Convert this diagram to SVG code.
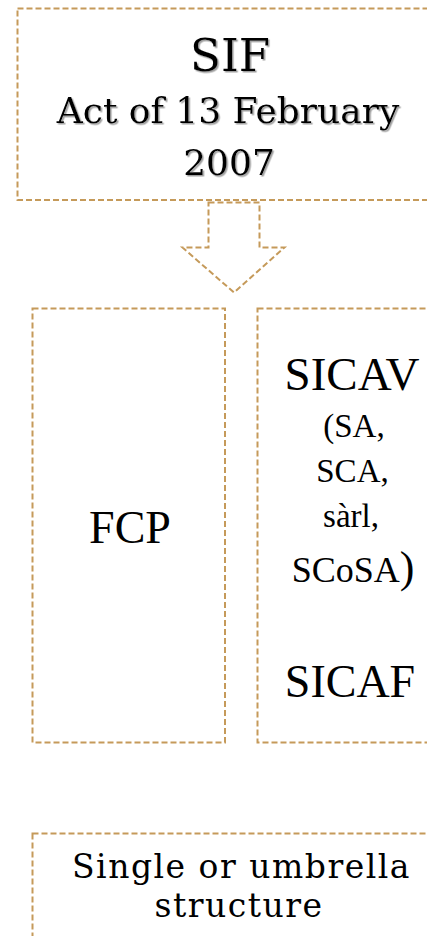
<svg xmlns="http://www.w3.org/2000/svg" width="427" height="936" viewBox="0 0 427 936">
<defs>
<style>
.box{fill:#ffffff;stroke:#C59A5A;stroke-width:2;stroke-dasharray:6 3}
.g{font-family:"DejaVu Serif","Liberation Serif",serif;fill:#000;text-anchor:middle}
.t{font-family:"Liberation Serif","Times New Roman",serif;fill:#000;text-anchor:middle}
</style>
<filter id="sh" x="-10%" y="-10%" width="130%" height="140%">
<feDropShadow dx="1.5" dy="1.5" stdDeviation="0.6" flood-color="#888888" flood-opacity="0.8"/>
</filter>
</defs>
<rect width="427" height="936" fill="#ffffff"/>
<g id="sif">
<rect class="box" x="17.5" y="8.5" width="420" height="191.5"/>
<g filter="url(#sh)">
<text class="g" x="230" y="71" font-size="45">SIF</text>
<text class="g" x="228" y="123" font-size="36">Act of 13 February</text>
<text class="g" x="229" y="175" font-size="36">2007</text>
</g>
</g>
<g id="connectors">
<path class="box" d="M208.5 202.5 H259.5 V247.5 H284.5 L234 292.5 L182.5 247.5 H208.5 Z"/>
</g>
<g id="fcp">
<rect class="box" x="32.5" y="308.5" width="192.5" height="434"/>
<text class="t" x="130" y="543" font-size="46">FCP</text>
</g>
<g id="sicav">
<rect class="box" x="257.5" y="308.5" width="180" height="434"/>
<text class="t" x="352" y="390" font-size="47">SICAV</text>
<text class="t" x="354" y="436.5" font-size="33">(SA,</text>
<text class="t" x="352.5" y="481.5" font-size="33">SCA,</text>
<text class="t" x="351" y="527" font-size="33">sàrl,</text>
<text class="t" x="353" y="581.5" font-size="36">SCoSA<tspan font-size="44">)</tspan></text>
<text class="t" x="350" y="696.5" font-size="46">SICAF</text>
</g>
<g id="structure">
<rect class="box" x="32.5" y="833.5" width="405" height="120"/>
<text class="g" x="241.5" y="878" font-size="33" letter-spacing="1.5">Single or umbrella</text>
<text class="g" x="239" y="916.5" font-size="33" letter-spacing="1.5">structure</text>
</g>
</svg>
